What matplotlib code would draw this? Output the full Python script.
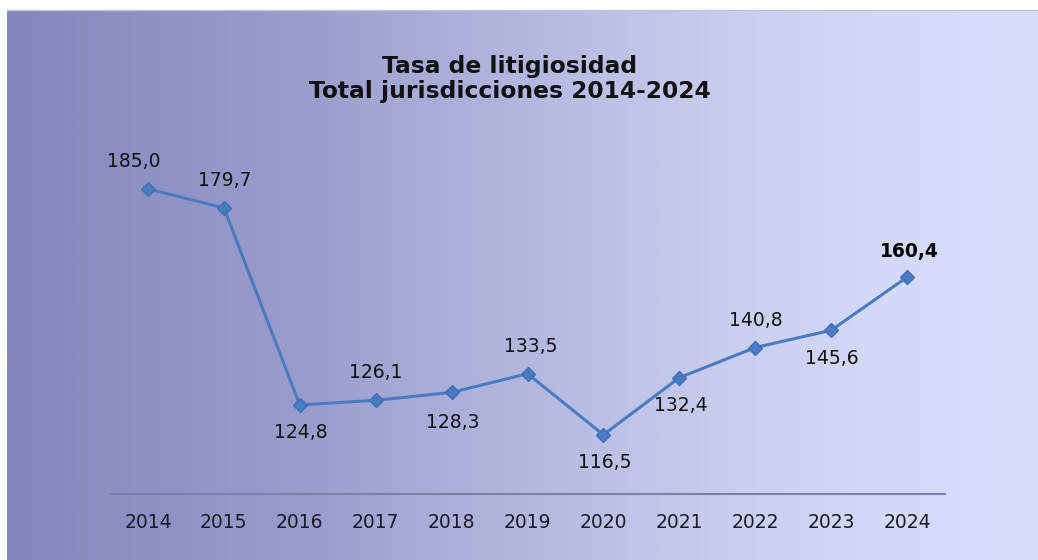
import matplotlib
matplotlib.use("Agg")
import matplotlib.pyplot as plt
import numpy as np
from matplotlib.colors import LinearSegmentedColormap

years = ["2014", "2015", "2016", "2017", "2018", "2019", "2020", "2021", "2022", "2023", "2024"]
values = [185.0, 179.7, 124.8, 126.1, 128.3, 133.5, 116.5, 132.4, 140.8, 145.6, 160.4]
# label placement: offset in pixels (dx, dy)
label_offsets = [(-14, 27), (1, 27), (1, -28), (0, 28), (1, -30), (3, 27), (1, -28), (1, -28), (1, 27), (1, -28), (2, 26)]

W, H = 1038, 560
fig = plt.figure(figsize=(W / 100, H / 100), dpi=100)
fig.patch.set_facecolor("white")

# gradient background
bg = fig.add_axes([7 / W, 0, 1 - 7 / W, 550 / H], zorder=0)
cmap = LinearSegmentedColormap.from_list(
    "bg", [(0.0, "#8487bc"), (0.28, "#999ccb"), (0.48, "#b1b5de"), (0.7, "#c9ceef"), (0.85, "#d3d9f7"), (1.0, "#d7ddf9")])
grad = np.linspace(0, 1, 512).reshape(1, -1)
bg.imshow(grad, aspect="auto", cmap=cmap, extent=[0, 1, 0, 1])
bg.axis("off")
fig.add_artist(plt.Line2D([7 / W, 1], [550 / H, 550 / H], color="#c4c4d0", lw=1.0, zorder=2))

ymin, ymax = 100, 200
ax_left, ax_right = 110 / W, 945 / W
ax_bottom = (H - 494) / H
ax_top = (H - 135) / H
ax = fig.add_axes([ax_left, ax_bottom, ax_right - ax_left, ax_top - ax_bottom], zorder=1)
ax.patch.set_alpha(0)

x = np.arange(len(years))
ax.plot(x, values, color="#4a7bc0", lw=2.2, marker="D", markersize=7.5, markeredgecolor="#3f70b8", zorder=3)

for i, (v, (dx, dy)) in enumerate(zip(values, label_offsets)):
    last = i == len(values) - 1
    ax.annotate(f"{v:.1f}".replace(".", ","), (x[i], v), xytext=(dx, dy), textcoords="offset pixels",
                ha="center", va="center", fontsize=13.5, color="#111111" if not last else "black",
                fontweight="bold" if last else "normal")

ax.set_xlim(-0.5, len(years) - 0.5)
ax.set_ylim(ymin, ymax)
ax.set_xticks(x)
ax.set_xticklabels(years, fontsize=13.5, color="#1a1a2a")
ax.tick_params(axis="x", length=0, pad=14)
ax.set_yticks([])
for s in ["top", "left", "right"]:
    ax.spines[s].set_visible(False)
ax.spines["bottom"].set_color("#7c80a6")
ax.spines["bottom"].set_linewidth(1.5)

fig.text(510 / W, 1 - 79 / H, "Tasa de litigiosidad\nTotal jurisdicciones 2014-2024", ha="center", va="center",
         fontsize=16.8, fontweight="bold", color="#111111", linespacing=1.12)

fig.savefig("out.png", dpi=100)
